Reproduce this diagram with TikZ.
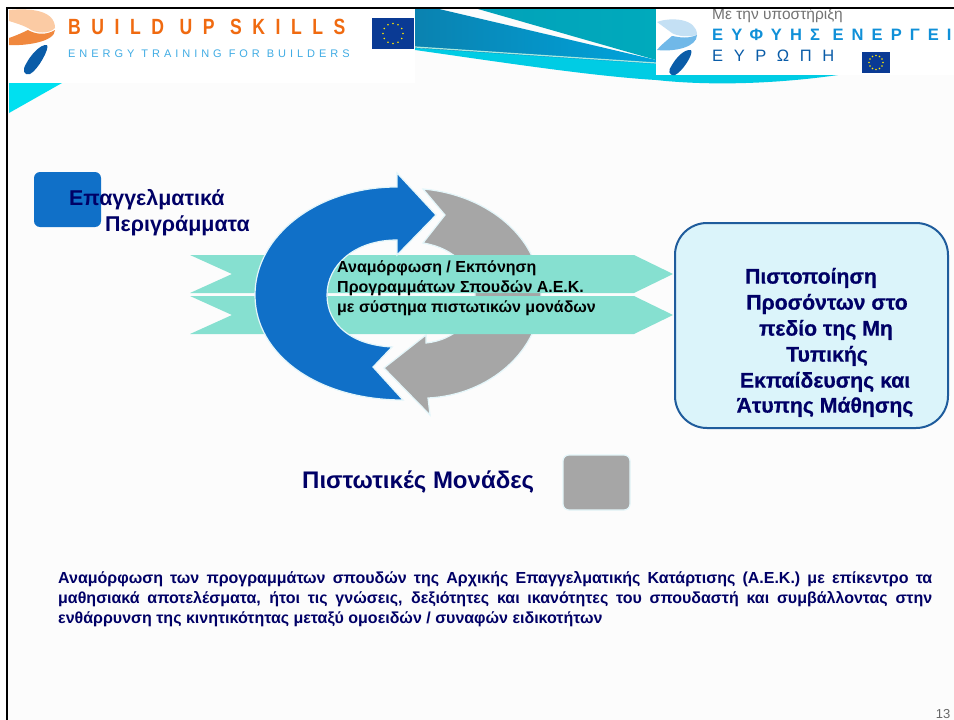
\documentclass[tikz,border=0pt]{standalone}
\usepackage{fontspec}
\setmainfont{Liberation Sans}
\newfontfamily\fakebold[FakeBold=0.6]{Liberation Sans Bold}
\newfontfamily\narrowbold[FakeStretch=0.8]{Liberation Sans Bold}
\usetikzlibrary{shapes.geometric}
\definecolor{navy}{HTML}{000066}
\definecolor{bluearrow}{HTML}{1070C8}
\definecolor{greyarrow}{HTML}{A6A6A6}
\definecolor{band}{HTML}{86E0D0}
\definecolor{halo}{HTML}{E4F6FA}
\definecolor{boxfill}{HTML}{DBF4FA}
\definecolor{boxline}{HTML}{1F5C9C}
\definecolor{orangeL}{HTML}{F06A10}
\definecolor{skyL}{HTML}{40ACE4}
\definecolor{effblue}{HTML}{1090D8}
\definecolor{eu}{HTML}{0A3A94}
\definecolor{leaf}{HTML}{0A5CA8}
\definecolor{tealA}{HTML}{0A82B0}
\definecolor{tealB}{HTML}{00A4DC}
\definecolor{tealC}{HTML}{00AABC}
\definecolor{cyanA}{HTML}{00CCE4}
\definecolor{cornercyan}{HTML}{00E0F0}
\definecolor{peach}{HTML}{FBCBA4}
\definecolor{peachO}{HTML}{F0883E}
\definecolor{paleA}{HTML}{C4E0F4}
\definecolor{paleB}{HTML}{70B8E8}
\tikzset{
  x=1pt,y=-1pt,
  bandarrow/.style={fill=band,draw=none},
  bigarrow/.style={draw=halo,line width=1.2pt,line join=miter},
  headtext/.style={font=\bfseries\fontsize{21.4}{25}\selectfont,text=navy,inner sep=0pt,anchor=west},
  boxtext/.style={font=\fakebold\fontsize{21.2}{25.5}\selectfont,text=navy,inner sep=0pt,anchor=center},
  legendbox/.style={rounded corners=6pt},
  star/.style={fill=yellow!90!orange,draw=none}
}
\newcommand{\euflag}[5]{% x0 y0 x1 y1 starradius
  \fill[eu] (#1,#2) rectangle (#3,#4);
  \foreach \a in {0,30,...,330}
    \fill[star] ({(#1+#3)/2+#5*cos(\a)},{(#2+#4)/2+#5*sin(\a)}) circle (0.9);
}
\begin{document}
\begin{tikzpicture}
\useasboundingbox (0,0) rectangle (954,720);
\fill[white] (0,0) rectangle (954,720);
\fill[black!1] (8,9) rectangle (954,720);
% swoosh
\fill[cyanA] (415,50) .. controls (500,62) and (590,76) .. (656,80) .. controls (720,87) and (790,82) .. (838,75) -- (656,60) -- (415,48) -- cycle;
\shade[shading angle=60,left color=tealA,right color=tealB] (415,9) -- (439,9) -- (656,60) -- (656,64) -- (415,48) -- cycle;
\shade[left color=tealC!80!tealA,right color=tealC] (478,9) -- (656,9) -- (656,60) -- cycle;
\draw[band!70!white,line width=1.2pt] (415,47) -- (656,63);
% left corner triangle
\fill[cornercyan] (9,83) -- (62,83) -- (9,113) -- cycle;
% left logo
\fill[white] (8,9) rectangle (415,83);
\fill[peach] (9,10) .. controls (30,8) and (55,10) .. (55,28) .. controls (50,34) and (35,34) .. (28,28) .. controls (20,24) and (12,22) .. (9,21) -- cycle;
\fill[peachO] (9,45) .. controls (25,46) and (55,42) .. (55,30) .. controls (45,36) and (35,34) .. (28,30) .. controls (20,34) and (12,37) .. (9,38) -- cycle;
\fill[leaf] (47,45) .. controls (50,48) and (38,70) .. (30,74) .. controls (24,76) and (22,70) .. (26,64) .. controls (30,56) and (40,44) .. (47,45) -- cycle;
\node[font=\narrowbold\fontsize{22}{24}\selectfont,text=orangeL,inner sep=0pt,anchor=west] (buildup) at (68,27) {\addfontfeature{LetterSpace=48}BUILD UP SKILLS};
\node[font=\fontsize{11}{13}\selectfont,text=skyL,inner sep=0pt,anchor=west] (energy) at (68,54) {\addfontfeature{LetterSpace=36}ENERGY TRAINING FOR BUILDERS};
\euflag{372}{18}{414}{49}{10}
% right logo
\fill[white] (656,9) rectangle (954,75);
\begin{scope}
\clip (656,9) rectangle (954,75);
\fill[paleA] (657,22) .. controls (670,17) and (697,18) .. (697,35) .. controls (685,38) and (675,35) .. (672,33) -- cycle;
\fill[paleB] (657,50) .. controls (675,52) and (697,47) .. (697,35) .. controls (685,40) and (675,36) .. (672,36) .. controls (665,42) and (660,46) .. (657,50) -- cycle;
\fill[leaf] (691,50) .. controls (694,54) and (682,72) .. (675,75) .. controls (668,76) and (668,70) .. (672,65) .. controls (676,58) and (684,49) .. (691,50) -- cycle;
\node[font=\fontsize{15.5}{17}\selectfont,text=black!55,inner sep=0pt,anchor=west] (support) at (712,15) {Με την υποστήριξη};
\end{scope}
\node[font=\bfseries\fontsize{16.5}{18}\selectfont,text=effblue,inner sep=0pt,anchor=west] (eff) at (712,35) {\addfontfeature{LetterSpace=49}ΕΥΦΥΗΣ ΕΝΕΡΓΕΙ};
\node[font=\fontsize{16.5}{18}\selectfont,text=leaf,inner sep=0pt,anchor=west] (europe) at (712,56) {\addfontfeature{LetterSpace=64}ΕΥΡΩΠΗ};
\euflag{862}{52}{890}{73}{7}
% frame
\draw[black,line width=2pt] (7,720) -- (7,8) -- (954,8);
% legend boxes
\path[fill=bluearrow,legendbox] (34,172) rectangle (101,227);
\node[headtext] (prof1) at (69,200) {Επαγγελματικά};
\node[headtext] (prof2) at (105,226) {Περιγράμματα};
\path[fill=greyarrow,draw=halo,line width=1.2pt,legendbox] (563,455) rectangle (630,510);
\node[font=\bfseries\fontsize{24}{28}\selectfont,text=navy,inner sep=0pt,anchor=west] (credits) at (302,482) {Πιστωτικές Μονάδες};
% grey arrow
\draw[bigarrow,fill=greyarrow] (423,189) .. controls (490,195) and (541,240) .. (541,295)
  .. controls (541,350) and (490,395) .. (428,398) -- (430,415) -- (384,368) -- (426,335) -- (426,343)
  .. controls (455,340) and (475,320) .. (475,295) .. controls (475,270) and (455,248) .. (423,243)
  -- (445,215) -- cycle;
% bands
\fill[bandarrow] (190,255) -- (634,255) -- (673,274) -- (634,293) -- (190,293) -- (232,274) -- cycle;
\fill[bandarrow] (190,296) -- (634,296) -- (673,315) -- (634,334) -- (190,334) -- (232,315) -- cycle;
% blue arrow
\draw[bigarrow,fill=bluearrow] (397,187) .. controls (318,187) and (255,235) .. (255,295)
  .. controls (255,355) and (318,400) .. (403,400) -- (373,367) -- (392,347)
  .. controls (352,345) and (327,325) .. (327,295) .. controls (327,265) and (355,240) .. (397,240)
  -- (397,255) -- (436,215) -- (397,173) -- cycle;
% band text
\node[font=\bfseries\fontsize{16}{19.6}\selectfont,align=left,inner sep=0pt,anchor=north west,text=black] (reform) at (337,261) {Αναμόρφωση / Εκπόνηση\\Προγραμμάτων Σπουδών Α.Ε.Κ.\\με σύστημα πιστωτικών μονάδων};
% right box
\draw[fill=boxfill,draw=boxline,line width=2pt,rounded corners=32pt] (675,223) rectangle (948,428);
\node[boxtext] (cert1) at (811,278) {Πιστοποίηση};
\node[boxtext] (cert2) at (827,304) {Προσόντων στο};
\node[boxtext] (cert3) at (826,330) {πεδίο της Μη};
\node[boxtext] (cert4) at (827,356) {Τυπικής};
\node[boxtext] (cert5) at (825,382) {Εκπαίδευσης και};
\node[boxtext] (cert6) at (825,407) {Άτυπης Μάθησης};
% paragraph
\node[font=\bfseries\fontsize{16}{20}\selectfont,text=navy,inner sep=0pt,anchor=north west,text width=874pt,align=justify] (para) at (58,571) {Αναμόρφωση των προγραμμάτων σπουδών της Αρχικής Επαγγελματικής Κατάρτισης (Α.Ε.Κ.) με επίκεντρο τα\linebreak μαθησιακά αποτελέσματα, ήτοι τις γνώσεις, δεξιότητες και ικανότητες του σπουδαστή και συμβάλλοντας στην\linebreak ενθάρρυνση της κινητικότητας μεταξύ ομοειδών / συναφών ειδικοτήτων};
\node[font=\fontsize{13}{15}\selectfont,text=black!60,inner sep=0pt] (pagenum) at (943,714) {13};
\end{tikzpicture}
\end{document}
